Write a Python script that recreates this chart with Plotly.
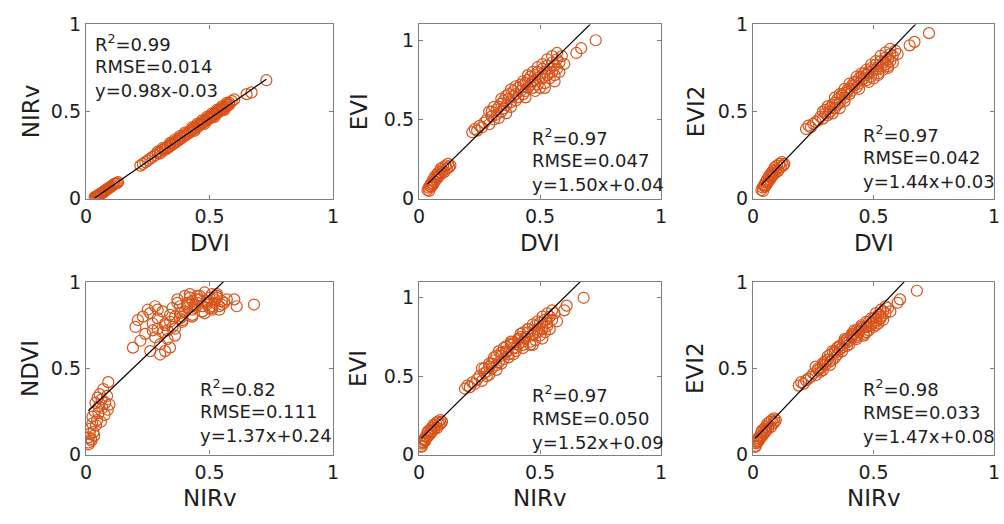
import plotly.graph_objects as go

# ---- sample values ----
DVI = [0.035, 0.04, 0.042, 0.045, 0.048, 0.05, 0.052, 0.055, 0.058, 0.06, 0.063, 0.066, 0.07, 0.072, 0.075,
       0.078, 0.08, 0.083, 0.086, 0.09, 0.094, 0.098, 0.10, 0.105, 0.11, 0.115, 0.12, 0.125, 0.13,
       0.22, 0.23, 0.24, 0.25, 0.26, 0.27, 0.28, 0.29, 0.30, 0.30, 0.31, 0.32, 0.32, 0.33, 0.33, 0.34, 0.34,
       0.35, 0.35, 0.36, 0.36, 0.37, 0.37, 0.38, 0.38, 0.39, 0.39, 0.40, 0.40, 0.41, 0.41, 0.42, 0.42, 0.43,
       0.43, 0.44, 0.44, 0.45, 0.45, 0.46, 0.46, 0.47, 0.47, 0.48, 0.48, 0.49, 0.49, 0.50, 0.50, 0.51, 0.51,
       0.52, 0.52, 0.53, 0.53, 0.54, 0.54, 0.55, 0.55, 0.56, 0.56, 0.57, 0.57, 0.58, 0.58, 0.59, 0.60,
       0.43, 0.45, 0.47, 0.49, 0.51, 0.53, 0.55, 0.40, 0.38, 0.36, 0.34, 0.31, 0.29, 0.57, 0.44, 0.48, 0.52, 0.56,
       0.65, 0.67, 0.73]
NIRv = [0.01, 0.012, 0.011, 0.015, 0.02, 0.018, 0.022, 0.025, 0.03, 0.026, 0.033, 0.035, 0.04, 0.038, 0.045,
        0.047, 0.05, 0.052, 0.055, 0.06, 0.063, 0.066, 0.07, 0.075, 0.078, 0.085, 0.088, 0.09, 0.095,
        0.19, 0.20, 0.21, 0.22, 0.23, 0.24, 0.25, 0.26, 0.27, 0.26, 0.28, 0.29, 0.28, 0.30, 0.29, 0.31, 0.30,
        0.32, 0.31, 0.33, 0.32, 0.34, 0.33, 0.35, 0.34, 0.36, 0.35, 0.37, 0.36, 0.38, 0.37, 0.39, 0.38, 0.40,
        0.39, 0.41, 0.40, 0.42, 0.41, 0.43, 0.42, 0.44, 0.43, 0.45, 0.44, 0.46, 0.45, 0.47, 0.46, 0.48, 0.47,
        0.49, 0.48, 0.50, 0.49, 0.51, 0.50, 0.52, 0.51, 0.53, 0.52, 0.54, 0.53, 0.55, 0.54, 0.56, 0.57,
        0.41, 0.43, 0.45, 0.47, 0.49, 0.51, 0.53, 0.38, 0.36, 0.34, 0.32, 0.29, 0.27, 0.55, 0.39, 0.43, 0.47, 0.51,
        0.60, 0.61, 0.68]
EVI = [0.055, 0.07, 0.05, 0.08, 0.09, 0.075, 0.10, 0.085, 0.12, 0.095, 0.11, 0.14, 0.12, 0.15, 0.13,
       0.16, 0.14, 0.17, 0.15, 0.19, 0.16, 0.18, 0.20, 0.17, 0.21, 0.19, 0.22, 0.20, 0.21,
       0.42, 0.44, 0.43, 0.46, 0.45, 0.48, 0.50, 0.47, 0.52, 0.55, 0.50, 0.56, 0.53, 0.58, 0.51, 0.60, 0.55,
       0.57, 0.62, 0.59, 0.54, 0.63, 0.66, 0.61, 0.58, 0.65, 0.68, 0.62, 0.66, 0.70, 0.64, 0.68, 0.72, 0.66,
       0.71, 0.73, 0.68, 0.75, 0.70, 0.72, 0.77, 0.74, 0.70, 0.78, 0.75, 0.72, 0.80, 0.77, 0.70, 0.82, 0.76,
       0.80, 0.73, 0.84, 0.78, 0.82, 0.76, 0.86, 0.80, 0.84, 0.78, 0.88, 0.82, 0.86, 0.80, 0.90, 0.85,
       0.74, 0.78, 0.80, 0.83, 0.85, 0.88, 0.90, 0.71, 0.69, 0.65, 0.63, 0.58, 0.55, 0.92, 0.64, 0.68, 0.70, 0.74,
       0.92, 0.95, 1.00]
EVI2 = [0.05, 0.065, 0.045, 0.075, 0.08, 0.07, 0.095, 0.08, 0.11, 0.09, 0.10, 0.13, 0.11, 0.14, 0.12,
        0.15, 0.13, 0.16, 0.14, 0.18, 0.15, 0.17, 0.19, 0.16, 0.20, 0.18, 0.21, 0.19, 0.20,
        0.40, 0.42, 0.41, 0.43, 0.44, 0.45, 0.47, 0.46, 0.49, 0.51, 0.48, 0.52, 0.50, 0.54, 0.49, 0.55, 0.52,
        0.54, 0.57, 0.55, 0.52, 0.59, 0.60, 0.58, 0.56, 0.61, 0.62, 0.60, 0.63, 0.65, 0.62, 0.65, 0.67, 0.64,
        0.67, 0.69, 0.66, 0.70, 0.68, 0.69, 0.72, 0.71, 0.68, 0.73, 0.72, 0.70, 0.75, 0.74, 0.69, 0.77, 0.74,
        0.76, 0.72, 0.79, 0.75, 0.78, 0.74, 0.81, 0.77, 0.80, 0.76, 0.83, 0.79, 0.82, 0.78, 0.85, 0.83,
        0.70, 0.72, 0.74, 0.77, 0.79, 0.82, 0.84, 0.66, 0.63, 0.60, 0.58, 0.53, 0.50, 0.86, 0.63, 0.67, 0.71, 0.75,
        0.88, 0.90, 0.95]
NDVI = [0.07, 0.10, 0.06, 0.12, 0.09, 0.15, 0.08, 0.18, 0.13, 0.22, 0.11, 0.25, 0.17, 0.30, 0.20,
        0.33, 0.24, 0.28, 0.35, 0.19, 0.32, 0.27, 0.38, 0.23, 0.30, 0.34, 0.26, 0.42, 0.29,
        0.62, 0.74, 0.78, 0.66, 0.80, 0.70, 0.84, 0.60, 0.76, 0.82, 0.68, 0.73, 0.86, 0.64, 0.79, 0.71, 0.58,
        0.75, 0.83, 0.67, 0.60, 0.77, 0.72, 0.85, 0.62, 0.80, 0.74, 0.88, 0.69, 0.82, 0.90, 0.77, 0.86, 0.92,
        0.80, 0.88, 0.83, 0.91, 0.85, 0.89, 0.93, 0.87, 0.81, 0.90, 0.85, 0.92, 0.88, 0.83, 0.90, 0.94, 0.86,
        0.89, 0.82, 0.91, 0.87, 0.93, 0.85, 0.90, 0.84, 0.92, 0.88, 0.86, 0.91, 0.89, 0.84, 0.88, 0.90,
        0.87, 0.84, 0.92, 0.86, 0.88, 0.86, 0.93, 0.79, 0.73, 0.81, 0.76, 0.84, 0.72, 0.87, 0.78, 0.80, 0.83, 0.85,
        0.90, 0.86, 0.87]

# panels: (x name, x data, y name, y data, y max, R2, RMSE, slope, intercept)
panels = [
    ("DVI", DVI, "NIRv", NIRv, 1.0, "0.99", "0.014", 0.98, -0.03),
    ("DVI", DVI, "EVI", EVI, 1.1, "0.97", "0.047", 1.50, 0.04),
    ("DVI", DVI, "EVI2", EVI2, 1.0, "0.97", "0.042", 1.44, 0.03),
    ("NIRv", NIRv, "NDVI", NDVI, 1.0, "0.82", "0.111", 1.37, 0.24),
    ("NIRv", NIRv, "EVI", EVI, 1.1, "0.97", "0.050", 1.52, 0.09),
    ("NIRv", NIRv, "EVI2", EVI2, 1.0, "0.98", "0.033", 1.47, 0.08),
]

W, H = 1004, 524
col_px = [(81, 331), (418, 663), (756, 1000)]
row_px = [(14, 196), (283, 463)]
# text block positions (left x, first line centre y) in pixels
text_px = [(88, 33), (530, 131), (865, 128), (194, 393), (530, 400), (865, 394)]
ytitle_x = [25, 357, 698]
xtitle_y = [242, 508]

ORANGE = "#D95319"
AXC = "#7f7f7f"
TXT = "#1e1e1e"
FONT = "DejaVu Sans"

fig = go.Figure()
annotations = []
for i, (xn, xd, yn, yd, ymax, r2, rmse, a, b) in enumerate(panels):
    r, c = divmod(i, 3)
    k = "" if i == 0 else str(i + 1)
    fig.add_trace(go.Scatter(x=xd, y=yd, mode="markers", xaxis="x" + k, yaxis="y" + k,
                             marker=dict(symbol="circle-open", size=11, color=ORANGE,
                                         line=dict(width=1.2, color=ORANGE)),
                             showlegend=False, hoverinfo="skip"))
    x0, x1 = min(xd), max(xd)
    fig.add_trace(go.Scatter(x=[x0, x1], y=[a * x0 + b, a * x1 + b], mode="lines",
                             xaxis="x" + k, yaxis="y" + k,
                             line=dict(color="black", width=1.2), showlegend=False, hoverinfo="skip"))
    xl, xr = col_px[c]
    yt, yb = row_px[r]
    ax = dict(domain=[xl / W, xr / W], range=[0, 1], tickvals=[0, 0.5, 1], ticktext=["0", "0.5", "1"],
              ticks="inside", ticklen=4, tickcolor=AXC, showline=True, linecolor=AXC, linewidth=1.3,
              mirror="ticks", showgrid=False, zeroline=False, anchor="y" + k,
              tickfont=dict(family=FONT, size=19, color=TXT))
    ay = dict(domain=[1 - yb / H, 1 - yt / H], range=[0, ymax], tickvals=[0, 0.5, 1],
              ticktext=["0", "0.5", "1"], ticks="inside", ticklen=4, tickcolor=AXC, showline=True,
              linecolor=AXC, linewidth=1.3, mirror="ticks", showgrid=False, zeroline=False,
              anchor="x" + k, tickfont=dict(family=FONT, size=19, color=TXT))
    fig.update_layout(**{"xaxis" + k: ax, "yaxis" + k: ay})

    tx, ty = text_px[i]
    sign = "-" if b < 0 else "+"
    lines = ["R<sup>2</sup>=" + r2, "RMSE=" + rmse, "y=%.2fx%s%.2f" % (a, sign, abs(b))]
    for j, t in enumerate(lines):
        annotations.append(dict(text=t, x=tx / W, y=1 - (ty + 25 * j) / H, xref="paper", yref="paper",
                                xanchor="left", yanchor="middle", showarrow=False,
                                font=dict(family=FONT, size=18, color=TXT)))
    annotations.append(dict(text=xn, x=(xl + xr) / 2 / W, y=1 - xtitle_y[r] / H, xref="paper", yref="paper",
                            xanchor="center", yanchor="middle", showarrow=False,
                            font=dict(family=FONT, size=23, color=TXT)))
    annotations.append(dict(text=yn, x=ytitle_x[c] / W, y=1 - (yt + yb) / 2 / H, xref="paper", yref="paper",
                            xanchor="center", yanchor="middle", showarrow=False, textangle=-90,
                            font=dict(family=FONT, size=23, color=TXT)))

fig.update_layout(width=W, height=H, margin=dict(l=0, r=0, t=0, b=0),
                  paper_bgcolor="white", plot_bgcolor="white", annotations=annotations)
fig.write_html("out.html")
